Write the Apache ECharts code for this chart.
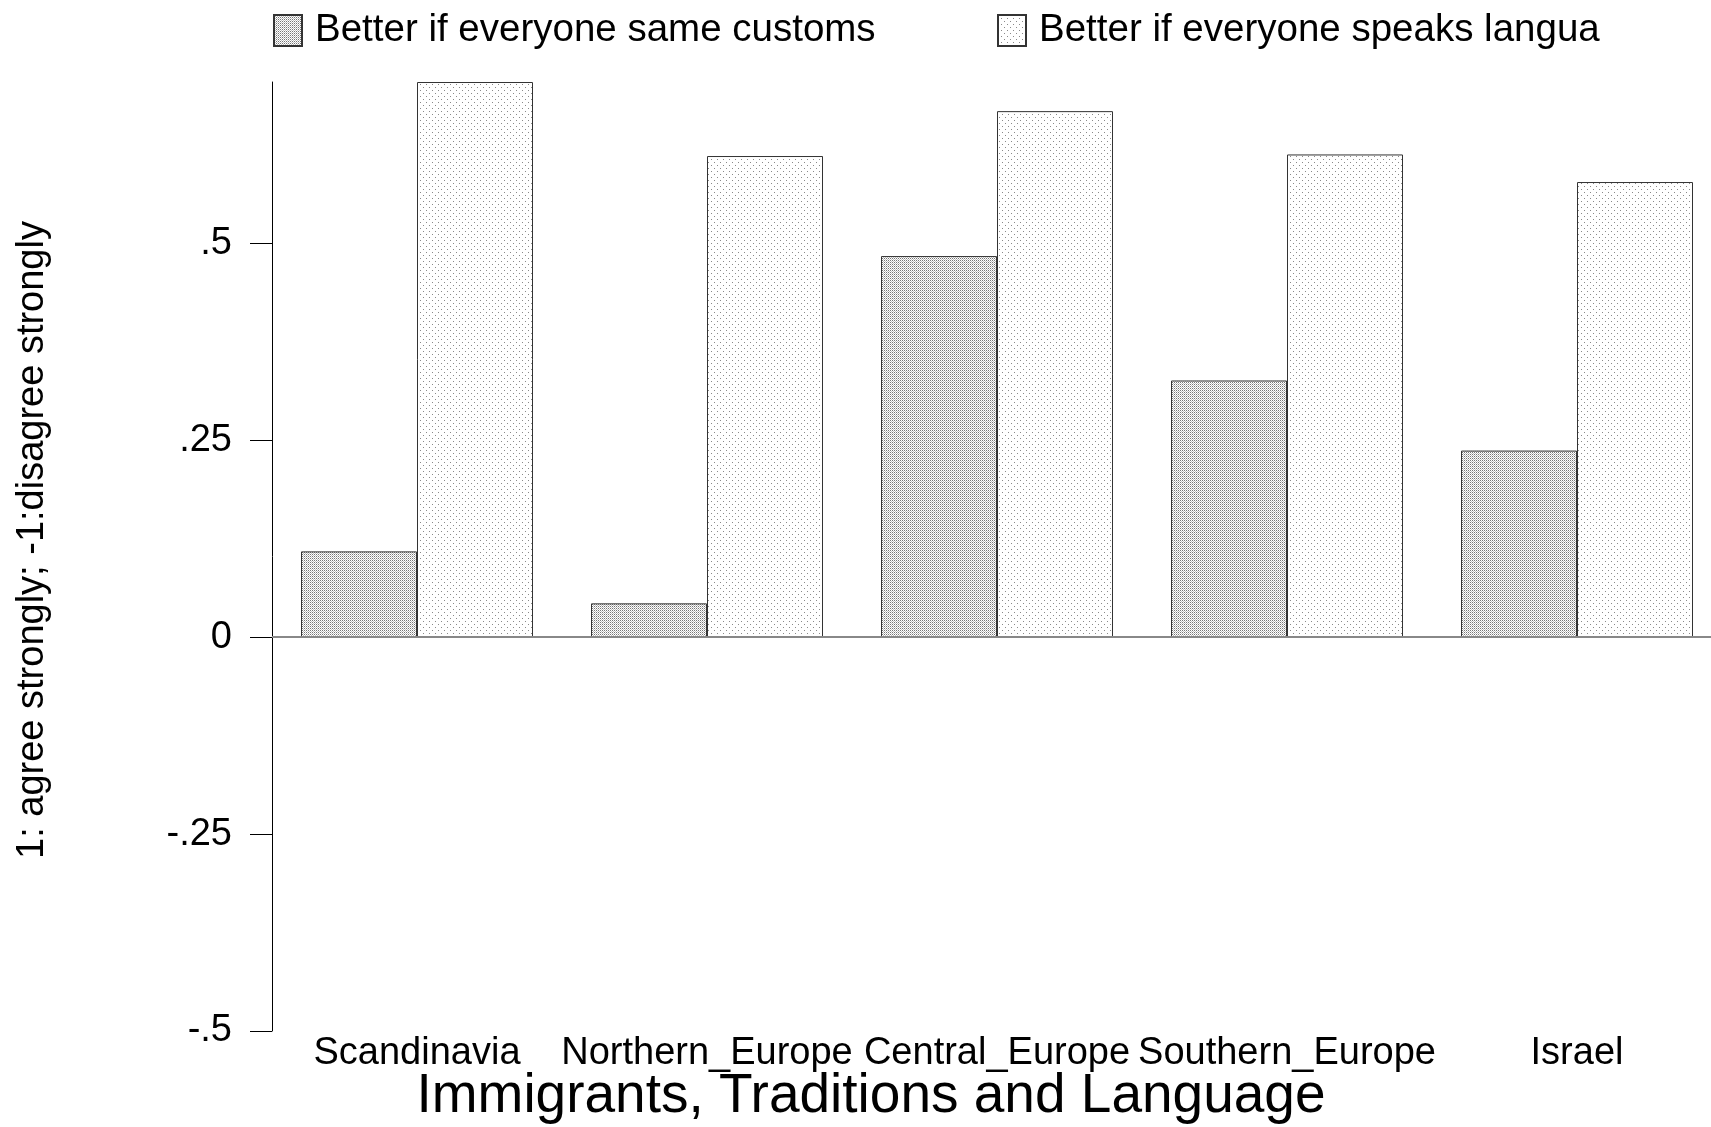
<!DOCTYPE html>
<html>
<head>
<meta charset="utf-8">
<script src="https://cdn.jsdelivr.net/npm/echarts@6/dist/echarts.min.js"></script>
<style>
html,body{margin:0;padding:0;background:#fff;overflow:hidden;}
#chart{width:1722px;height:1127px;}
</style>
</head>
<body>
<div id="chart"></div>
<script>
const categories = ['Scandinavia', 'Northern_Europe', 'Central_Europe', 'Southern_Europe', 'Israel'];
const seriesNames = ['Better if everyone same customs', 'Better if everyone speaks langua'];
const customsValues = [0.109, 0.043, 0.484, 0.326, 0.237];
const languageValues = [0.705, 0.611, 0.668, 0.613, 0.578];
const yTicks = [-0.5, -0.25, 0, 0.25, 0.5];
const yTitle = '1: agree strongly; -1:disagree strongly';
const xTitle = 'Immigrants, Traditions and Language';

const FONT = "'Liberation Sans', Arial, Helvetica, sans-serif";

function makePattern(w, h, dots, bg) {
  const c = document.createElement('canvas');
  c.width = w; c.height = h;
  const ctx = c.getContext('2d');
  ctx.fillStyle = bg; ctx.fillRect(0, 0, w, h);
  dots.forEach(d => { ctx.fillStyle = d[2]; ctx.fillRect(d[0], d[1], 1, 1); });
  return { image: c, repeat: 'repeat' };
}
const customsPattern = makePattern(2, 2, [[0, 0, '#777777'], [1, 1, '#c0c0c0']], '#ffffff');
const languagePattern = makePattern(6, 6, [[0, 0, '#8a8a8a'], [3, 3, '#8a8a8a']], '#ffffff');

function fmt(v) {
  if (v === 0) return '0';
  return String(v).replace('0.', '.');
}

const chart = echarts.init(document.getElementById('chart'), null, { renderer: 'canvas' });
chart.setOption({
  backgroundColor: '#ffffff',
  animation: false,
  textStyle: { fontFamily: FONT },
  legend: [
    {
      data: [seriesNames[0]], left: 273, top: 11, padding: 0,
      itemWidth: 28, itemHeight: 31, icon: 'rect',
      textStyle: { fontSize: 38.5, color: '#000', fontFamily: FONT, padding: [0, 0, 0, 8] }
    },
    {
      data: [seriesNames[1]], left: 997, top: 11, padding: 0,
      itemWidth: 28, itemHeight: 31, icon: 'rect',
      textStyle: { fontSize: 38.5, color: '#000', fontFamily: FONT, padding: [0, 0, 0, 8] }
    }
  ],
  grid: { left: 272, right: 0, top: 82, bottom: 96, containLabel: false },
  xAxis: {
    type: 'category',
    data: categories,
    position: 'bottom',
    axisLine: { show: false, onZero: false },
    axisTick: { show: false },
    axisLabel: { interval: 0, fontSize: 38, color: '#000', margin: 4, fontFamily: FONT },
    splitLine: { show: false }
  },
  yAxis: {
    type: 'value',
    min: -0.5,
    max: function (v) { return v.max; },
    interval: 0.25,
    axisLine: { show: true, lineStyle: { color: '#000', width: 1 } },
    axisTick: { show: true, length: 22, customValues: yTicks, lineStyle: { color: '#000', width: 1 } },
    axisLabel: { fontSize: 38, color: '#000', margin: 40, customValues: yTicks, formatter: fmt, fontFamily: FONT },
    splitLine: { show: false }
  },
  graphic: [
    {
      type: 'text', x: 33, y: 540, rotation: Math.PI / 2,
      style: { text: yTitle, fontSize: 38, fontFamily: FONT, fill: '#000', textAlign: 'center', textVerticalAlign: 'middle' }
    },
    {
      type: 'text', x: 871, y: 1097,
      style: { text: xTitle, fontSize: 55, fontFamily: FONT, fill: '#000', textAlign: 'center', textVerticalAlign: 'middle' }
    }
  ],
  series: [
    {
      name: seriesNames[0], type: 'bar', data: customsValues,
      barGap: '0%', barCategoryGap: '20%',
      itemStyle: { color: customsPattern, borderColor: '#333', borderWidth: 1 },
      markLine: {
        silent: true, symbol: 'none', label: { show: false },
        lineStyle: { color: '#888', width: 2, type: 'solid' },
        data: [{ yAxis: 0 }]
      }
    },
    {
      name: seriesNames[1], type: 'bar', data: languageValues,
      barGap: '0%', barCategoryGap: '20%',
      itemStyle: { color: languagePattern, borderColor: '#333', borderWidth: 1 }
    }
  ]
});
</script>
</body>
</html>
